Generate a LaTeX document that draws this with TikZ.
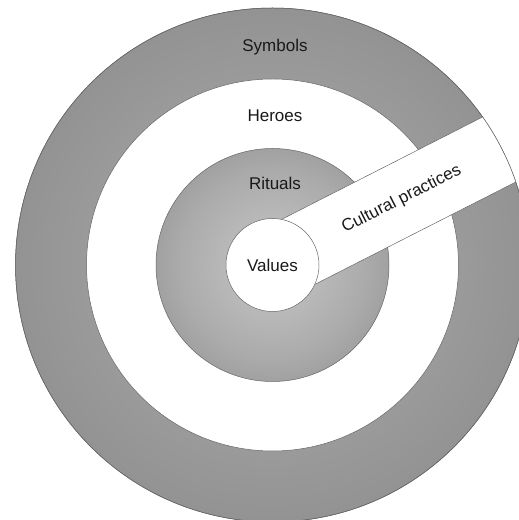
\documentclass[tikz,border=0pt]{standalone}
\usepackage{fontspec}
\setmainfont{Liberation Sans}
\usetikzlibrary{calc}

% radial fills for the two grey discs (stops reach the disc rim at 50bp)
\pgfdeclareradialshading{outerdisc}{\pgfpoint{0bp}{0bp}}{%
  color(0bp)=(black!32); color(36bp)=(black!47); color(50bp)=(black!57)}
\pgfdeclareradialshading{innerdisc}{\pgfpoint{0bp}{0bp}}{%
  color(0bp)=(black!22); color(20bp)=(black!33); color(50bp)=(black!56)}

\begin{document}
\begin{tikzpicture}[x=1pt,y=1pt,
    rim/.style={draw=black!60, line width=0.5pt},
    disc/.style={circle, inner sep=0pt, outer sep=0pt, rim},
    lbl/.style={font=\fontsize{17}{20}\selectfont, text=black!90, inner sep=0pt}]
  \useasboundingbox (0,0) rectangle (519,520);
  \coordinate (C) at (272.5,255);

  % concentric layers
  \node[disc, minimum size=514pt, shading=outerdisc] (symbols) at (C) {};
  \node[disc, minimum size=372pt, fill=white] (heroes) at (C) {};
  \node[disc, minimum size=233pt, shading=innerdisc] (rituals) at (C) {};

  % the band of cultural practices, cut off by the outer rim
  \begin{scope}
    \clip (C) circle (257);
    \begin{scope}[shift={(C)}, rotate=27]
      \fill[white] (0,-36.5) rectangle (300,36.5);
      \coordinate (bandtopA) at (0,36.5);
      \coordinate (bandtopB) at (300,36.5);
      \coordinate (bandbotA) at (0,-36.5);
      \coordinate (bandbotB) at (300,-36.5);
    \end{scope}
    \draw[rim] (bandtopA) -- (bandtopB);
    \draw[rim] (bandbotA) -- (bandbotB);
  \end{scope}
  \draw[rim] (C) circle (257);

  % core
  \node[disc, minimum size=93pt, fill=white] (values) at (C) {};

  % labels
  \node[lbl] (tsymbols) at (275,473) {Symbols};
  \node[lbl] (theroes)  at (275,404) {Heroes};
  \node[lbl] (trituals) at (275,337) {Rituals};
  \node[lbl] (tvalues)  at (values) {Values};
  \node[lbl, rotate=27] (tpractices) at ($(C)+(27:145)$) {Cultural practices};
\end{tikzpicture}
\end{document}
